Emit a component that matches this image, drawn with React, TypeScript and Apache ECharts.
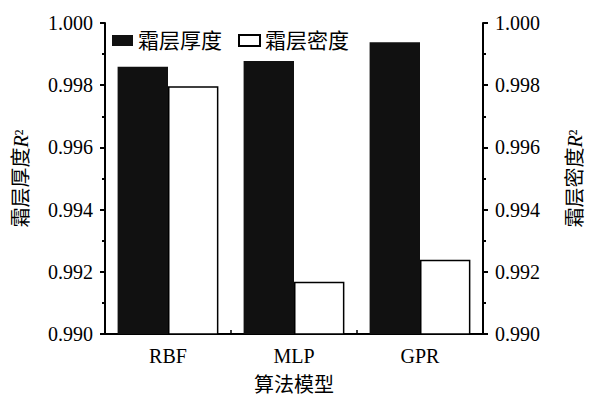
import React, { useEffect, useRef } from "react";
import * as echarts from "echarts";

const categories = ["RBF", "MLP", "GPR"];
const thicknessR2 = [0.99859, 0.99878, 0.99938];
const densityR2 = [0.99797, 0.99168, 0.99239];
const seriesNames = ["霜层厚度", "霜层密度"];
const yMin = 0.99;
const yMax = 1.0;
const yInterval = 0.002;

const FONT = "'Liberation Serif', 'Times New Roman', 'Noto Sans CJK SC', serif";

export default function App() {
  const ref = useRef<HTMLDivElement>(null);
  useEffect(() => {
    if (!ref.current) return;
    const chart = echarts.init(ref.current, undefined, { renderer: "svg" });
    const yAxisCommon = (position: "left" | "right", name: string, gap: number) => ({
      type: "value",
      position,
      min: yMin,
      max: yMax,
      interval: yInterval,
      name,
      nameLocation: "middle",
      nameGap: gap,
      nameRotate: 90,
      nameTextStyle: {
        color: "#000",
        fontSize: 20,
        fontFamily: FONT,
        rich: {
          c: { fontSize: 20, fontFamily: FONT, color: "#000" },
          i: { fontSize: 20, fontFamily: FONT, fontStyle: "italic", color: "#000" },
        },
      },
      axisLine: { show: true, lineStyle: { color: "#000", width: 2 } },
      axisTick: { show: true, inside: false, length: 5, lineStyle: { color: "#000", width: 2 } },
      minorTick: { show: true, splitNumber: 2, length: 3, lineStyle: { color: "#000", width: 2 } },
      splitLine: { show: false },
      axisLabel: {
        color: "#000",
        fontSize: 20,
        fontFamily: FONT,
        margin: 12,
        formatter: (v: number) => v.toFixed(3),
      },
    });
    chart.setOption({
      animation: false,
      backgroundColor: "#fff",
      grid: { left: 105, width: 378, top: 23, height: 318, containLabel: false },
      legend: {
        left: 107,
        top: 25,
        itemWidth: 21,
        itemHeight: 11,
        itemGap: 16,
        icon: "rect",
        textStyle: { color: "#000", fontSize: 21, fontFamily: FONT },
        data: seriesNames,
      },
      xAxis: {
        type: "category",
        data: categories,
        name: "算法模型",
        nameLocation: "middle",
        nameGap: 41,
        nameTextStyle: { color: "#000", fontSize: 20, fontFamily: FONT },
        axisLine: { show: true, lineStyle: { color: "#000", width: 2 } },
        axisTick: { show: true, inside: true, length: 4, lineStyle: { color: "#000", width: 1.5 } },
        axisLabel: { color: "#000", fontSize: 20, fontFamily: FONT, margin: 12 },
        splitLine: { show: false },
      },
      yAxis: [
        yAxisCommon("left", "{c|霜层厚度}{i|R}{c|²}", 74),
        yAxisCommon("right", "{c|霜层密度}{i|R}{c|²}", 82),
      ],
      series: [
        {
          name: seriesNames[0],
          type: "bar",
          data: thicknessR2,
          yAxisIndex: 0,
          barGap: "0%",
          barCategoryGap: "20%",
          itemStyle: { color: "#111", borderColor: "#111", borderWidth: 0 },
        },
        {
          name: seriesNames[1],
          type: "bar",
          data: densityR2,
          yAxisIndex: 0,
          barGap: "0%",
          barCategoryGap: "20%",
          itemStyle: { color: "#fff", borderColor: "#000", borderWidth: 1.5 },
        },
      ],
    });
    return () => chart.dispose();
  }, []);
  return <div ref={ref} style={{ width: 597, height: 400, position: "absolute", left: 0, top: 0 }} />;
}
